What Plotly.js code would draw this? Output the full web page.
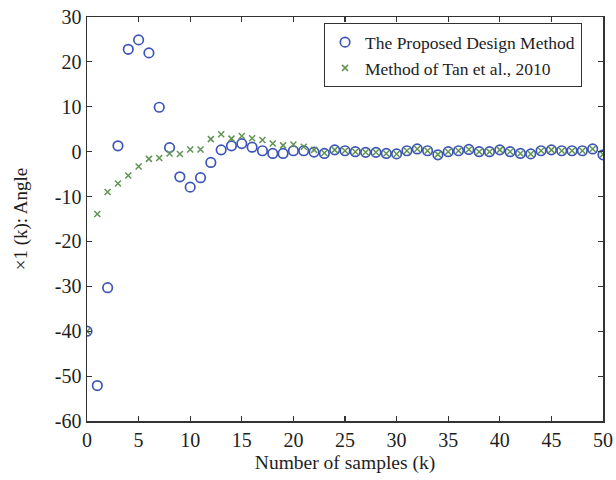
<!DOCTYPE html>
<html>
<head>
<meta charset="utf-8">
<script src="https://cdn.plot.ly/plotly-3.0.1.min.js"></script>
<style>html,body{margin:0;padding:0;background:#fff;}#chart{width:616px;height:480px;}</style>
</head>
<body>
<div id="chart"></div>
<script>
const samples = Array.from({length: 51}, (_, i) => i);
const proposedValues = [
  -40, -52.1, -30.3, 1.3, 22.8, 24.9, 22.0, 9.9, 0.9, -5.6,
  -7.9, -5.8, -2.4, 0.4, 1.3, 1.8, 1.0, 0.2, -0.4, -0.4,
  0.2, 0.2, -0.1, -0.4, 0.4, 0.2, 0.0, -0.15, -0.15, -0.4,
  -0.5, 0.2, 0.6, 0.2, -0.7, 0.0, 0.2, 0.5, 0.0, 0.0,
  0.4, 0.0, -0.4, -0.5, 0.2, 0.4, 0.2, 0.2, 0.2, 0.6,
  -0.7
];
const tanValues = [
  -40, -13.9, -9.0, -7.1, -5.3, -3.3, -1.6, -1.4, -0.4, -0.5,
  0.5, 0.5, 2.8, 3.9, 2.9, 3.5, 3.0, 2.6, 1.8, 1.4,
  1.6, 1.1, 0.4, -0.3, 0.4, 0.2, 0.0, -0.15, -0.15, -0.4,
  -0.5, 0.2, 0.6, 0.2, -0.6, 0.0, 0.2, 0.5, 0.0, 0.0,
  0.4, 0.0, -0.4, -0.5, 0.2, 0.4, 0.2, 0.2, 0.2, 0.6,
  -0.6
];
const seriesNames = ["The Proposed Design Method", "Method of Tan et al., 2010"];
const xTicks = [0, 5, 10, 15, 20, 25, 30, 35, 40, 45, 50];
const yTicks = [-60, -50, -40, -30, -20, -10, 0, 10, 20, 30];

const font = {family: "Liberation Serif, Times New Roman, serif", color: "#1e1e1e"};

const traces = [
  {
    x: samples, y: proposedValues, name: seriesNames[0], type: "scatter", mode: "markers",
    marker: {symbol: "circle-open", size: 9.5, color: "#3d55b8", line: {width: 1.7, color: "#3d55b8"}}
  },
  {
    x: samples, y: tanValues, name: seriesNames[1], type: "scatter", mode: "markers",
    marker: {symbol: "x-thin-open", size: 6, color: "#5f9452", line: {width: 1.5, color: "#5f9452"}}
  }
];

const axisCommon = {
  showgrid: false, zeroline: false, showline: true, mirror: "ticks",
  linecolor: "#333", linewidth: 1.5, ticks: "inside", ticklen: 5, tickwidth: 1.2, tickcolor: "#333",
  tickfont: Object.assign({size: 20}, font)
};

const layout = {
  width: 616, height: 480,
  margin: {l: 87, r: 13, t: 17, b: 59},
  paper_bgcolor: "#fff", plot_bgcolor: "#fff",
  showlegend: true,
  legend: {
    x: 0.459, y: 0.985, xanchor: "left", yanchor: "top",
    bordercolor: "#333", borderwidth: 1.2, bgcolor: "#fff",
    font: Object.assign({size: 17.5}, font),
    tracegroupgap: 0, itemwidth: 30
  },
  xaxis: Object.assign({}, axisCommon, {
    range: [0, 50], tickvals: xTicks, ticktext: xTicks.map(String),
    title: {text: "Number of samples (k)", font: Object.assign({size: 19.5}, font), standoff: 6}
  }),
  yaxis: Object.assign({}, axisCommon, {
    range: [-60, 30], tickvals: yTicks, ticktext: yTicks.map(String),
    title: {text: "×1 (k): Angle", font: Object.assign({size: 19}, font), standoff: 22}
  })
};

Plotly.newPlot("chart", traces, layout, {displayModeBar: false, staticPlot: true});
</script>
</body>
</html>
